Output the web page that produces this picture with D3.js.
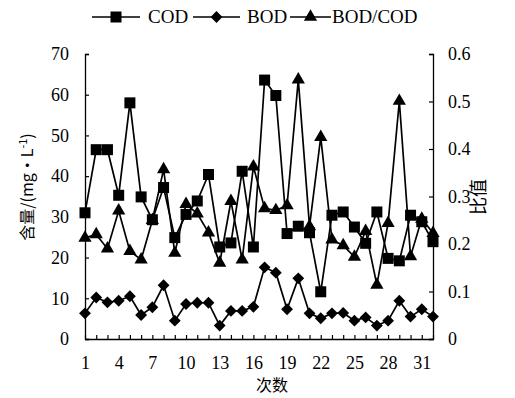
<!DOCTYPE html>
<html>
<head>
<meta charset="utf-8">
<script src="https://cdn.jsdelivr.net/npm/d3@7"></script>
<style>
  body { margin: 0; background: #fff; }
  svg { display: block; }
  text { font-family: "Liberation Serif", "Times New Roman", serif; fill: #000; }
  .cjk { font-family: "Noto Sans CJK SC", sans-serif; }
</style>
</head>
<body>
<svg id="chart"></svg>
<script>
// sample number along the x axis
const runs = d3.range(1, 33);
const cod = [31, 46.5, 46.5, 35.3, 58, 34.9, 29.3, 37.2, 24.9, 30.6, 33.9, 40.4, 22.6, 23.6, 41.2, 22.6,
             63.6, 59.8, 25.9, 27.7, 26.1, 11.6, 30.4, 31.2, 27.5, 23.5, 31.2, 19.8, 19.2, 30.4, 28.8, 23.9];
const bod = [6.3, 10.2, 9.0, 9.4, 10.5, 5.9, 7.8, 13.2, 4.5, 8.6, 8.9, 8.9, 3.3, 6.9, 6.9, 7.9,
             17.6, 16.3, 7.3, 14.9, 6.3, 5.1, 6.3, 6.4, 4.5, 5.3, 3.3, 4.5, 9.4, 5.5, 7.3, 5.5];
const ratio = [0.213, 0.22, 0.19, 0.27, 0.185, 0.167, 0.25, 0.357, 0.181, 0.284, 0.264, 0.224, 0.16, 0.29, 0.167, 0.363,
               0.275, 0.271, 0.281, 0.546, 0.237, 0.425, 0.209, 0.197, 0.173, 0.227, 0.114, 0.244, 0.501, 0.174, 0.253, 0.223];
const xTickLabels = [1, 4, 7, 10, 13, 16, 19, 22, 25, 28, 31];
const leftTicks = [0, 10, 20, 30, 40, 50, 60, 70];
const rightTicks = [0, 0.1, 0.2, 0.3, 0.4, 0.5, 0.6];

const width = 515, height = 398;
const plotLeft = 85, plotRight = 433, plotTop = 54, plotBottom = 339;
const serif = "'Liberation Serif', 'Times New Roman', serif";

const svg = d3.select("#chart")
    .attr("width", width)
    .attr("height", height);

const x = d3.scaleLinear().domain([1, 32]).range([plotLeft, plotRight]);
const yL = d3.scaleLinear().domain([0, 70]).range([plotBottom, plotTop]);
const yR = d3.scaleLinear().domain([0, 0.6]).range([plotBottom, plotTop]);

// axes
const axisStyle = g => {
    g.attr("font-family", serif).attr("font-size", 18);
    g.select(".domain").attr("stroke", "#000").attr("stroke-width", 1.3);
    g.selectAll(".tick line").attr("stroke", "#000").attr("stroke-width", 1.2);
    g.selectAll(".tick text").style("font-size", "18px").style("font-family", serif);
};

svg.append("g")
    .attr("transform", `translate(${plotLeft},0)`)
    .call(d3.axisLeft(yL).tickValues(leftTicks).tickSize(-4).tickSizeOuter(-4).tickPadding(16))
    .call(axisStyle);

svg.append("g")
    .attr("transform", `translate(${plotRight},0)`)
    .call(d3.axisRight(yR).tickValues(rightTicks).tickSize(-4).tickSizeOuter(-4).tickPadding(15).tickFormat(d => d === 0 ? "0" : d3.format(".1f")(d)))
    .call(axisStyle);

svg.append("g")
    .attr("transform", `translate(0,${plotBottom})`)
    .call(d3.axisBottom(x).tickValues(runs).tickSize(-4).tickSizeOuter(0).tickPadding(17)
        .tickFormat(d => xTickLabels.includes(d) ? d : ""))
    .call(axisStyle);

// axis titles
svg.append("text")
    .attr("class", "cjk")
    .attr("transform", "translate(33,187) rotate(-90)")
    .attr("text-anchor", "middle")
    .style("font-size", "16px")
    .html('含量/(mg·L<tspan dy="-6" font-size="11">-1</tspan><tspan dy="6">)</tspan>');

svg.append("text")
    .attr("class", "cjk")
    .attr("transform", "translate(480,197) rotate(-90)")
    .attr("text-anchor", "middle")
    .attr("dominant-baseline", "middle")
    .style("font-size", "18px")
    .text("比值");

svg.append("text")
    .attr("class", "cjk")
    .attr("x", 272)
    .attr("y", 391)
    .attr("text-anchor", "middle")
    .style("font-size", "16px")
    .text("次数");

// series
const series = [
    { name: "COD", values: cod, y: yL, symbol: d3.symbolSquare, size: 121, rot: 0 },
    { name: "BOD", values: bod, y: yL, symbol: d3.symbolSquare, size: 70, rot: 45 },
    { name: "BOD/COD", values: ratio, y: yR, symbol: d3.symbolTriangle, size: 76, rot: 0 }
];

series.forEach(s => {
    const line = d3.line()
        .x((d, i) => x(runs[i]))
        .y(d => s.y(d));

    svg.append("path")
        .datum(s.values)
        .attr("d", line)
        .attr("fill", "none")
        .attr("stroke", "#000")
        .attr("stroke-width", 1.7);

    svg.append("g").selectAll("path")
        .data(s.values)
        .enter()
        .append("path")
        .attr("d", d3.symbol().type(s.symbol).size(s.size))
        .attr("transform", (d, i) => `translate(${x(runs[i])},${s.y(d)}) rotate(${s.rot})`)
        .attr("fill", "#000");
});

// legend
const legendItems = [
    { name: "COD", x0: 92, x1: 140, tx: 148 },
    { name: "BOD", x0: 193, x1: 240, tx: 247 },
    { name: "BOD/COD", x0: 290, x1: 331, tx: 332 }
];
const ly = 17;
legendItems.forEach((item, i) => {
    const s = series[i];
    svg.append("line")
        .attr("x1", item.x0).attr("x2", item.x1)
        .attr("y1", ly).attr("y2", ly)
        .attr("stroke", "#000").attr("stroke-width", 1.7);
    svg.append("path")
        .attr("d", d3.symbol().type(s.symbol).size(s.size)())
        .attr("transform", `translate(${(item.x0 + item.x1) / 2},${ly}) rotate(${s.rot})`)
        .attr("fill", "#000");
    svg.append("text")
        .attr("x", item.tx)
        .attr("y", ly + 6)
        .style("font-size", "19px")
        .style("font-family", serif)
        .text(item.name);
});
</script>
</body>
</html>
